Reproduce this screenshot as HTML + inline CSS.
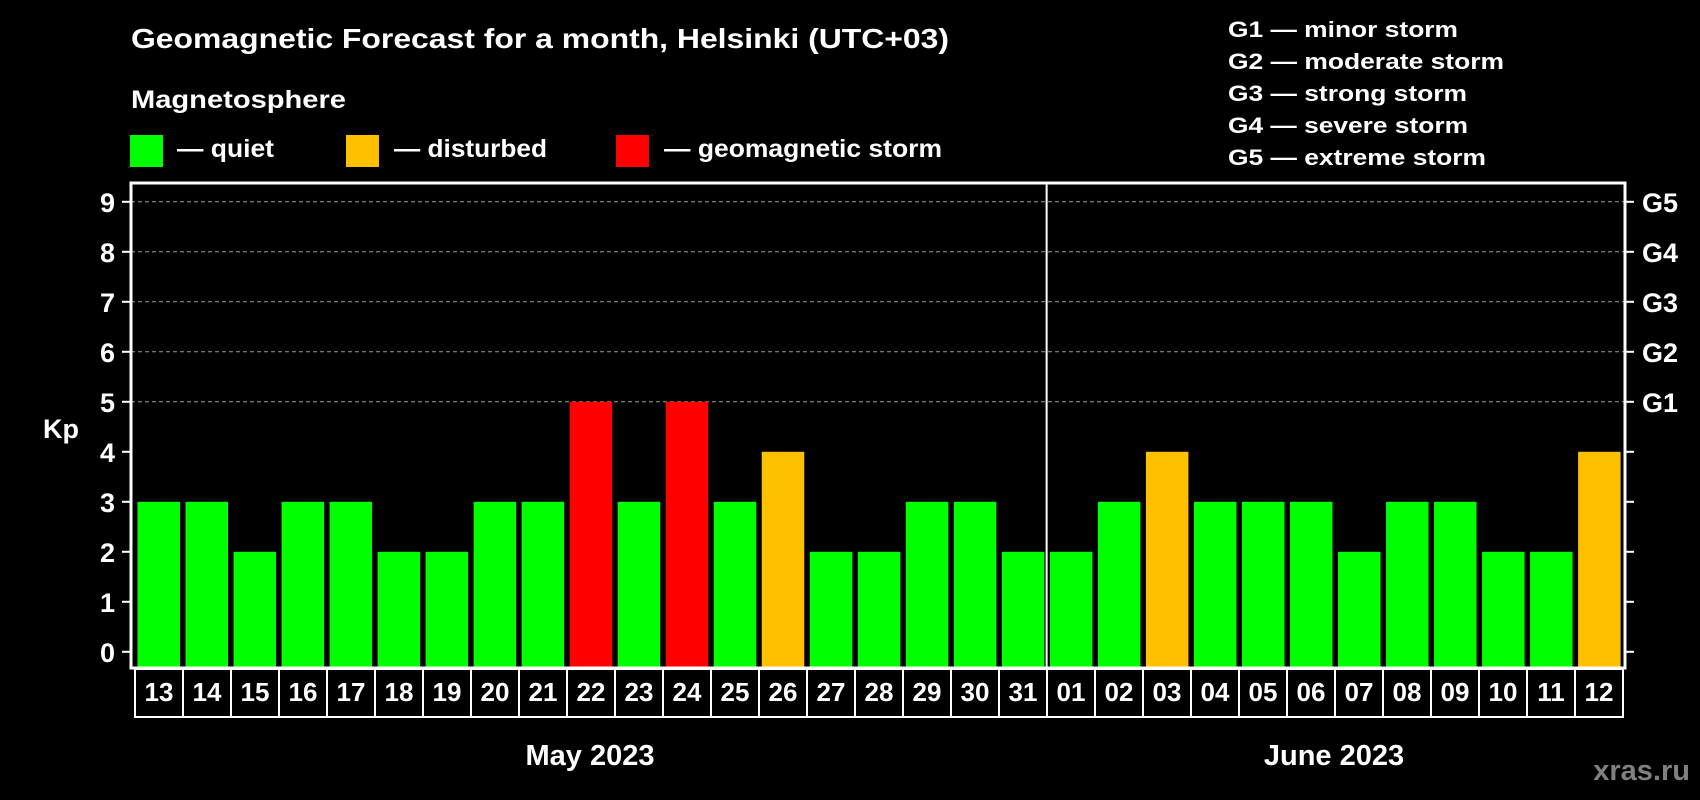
<!DOCTYPE html>
<html><head><meta charset="utf-8"><style>
html,body{margin:0;padding:0;background:#000;}
svg{display:block;font-family:"Liberation Sans",Arial,sans-serif;font-weight:bold;}
</style></head><body>
<svg id="chart" width="1700" height="800" viewBox="0 0 1700 800">
<rect x="0" y="0" width="1700" height="800" fill="#000"/>
<text x="131" y="48" font-size="28" fill="#fff" textLength="818" lengthAdjust="spacingAndGlyphs">Geomagnetic Forecast for a month, Helsinki (UTC+03)</text>
<text x="131" y="108" font-size="25" fill="#fff" textLength="215" lengthAdjust="spacingAndGlyphs">Magnetosphere</text>
<g>
<rect x="130" y="135" width="33" height="32" fill="#00ff00"/>
<text x="177" y="157" font-size="25" fill="#fff" textLength="97" lengthAdjust="spacingAndGlyphs">— quiet</text>
</g>
<g>
<rect x="346" y="135" width="33" height="32" fill="#ffc000"/>
<text x="394" y="157" font-size="25" fill="#fff" textLength="153" lengthAdjust="spacingAndGlyphs">— disturbed</text>
</g>
<g>
<rect x="616" y="135" width="33" height="32" fill="#ff0000"/>
<text x="664" y="157" font-size="25" fill="#fff" textLength="278" lengthAdjust="spacingAndGlyphs">— geomagnetic storm</text>
</g>
<g font-size="22" fill="#fff">
<text x="1228" y="37" textLength="230" lengthAdjust="spacingAndGlyphs">G1 — minor storm</text>
<text x="1228" y="69" textLength="276" lengthAdjust="spacingAndGlyphs">G2 — moderate storm</text>
<text x="1228" y="101" textLength="239" lengthAdjust="spacingAndGlyphs">G3 — strong storm</text>
<text x="1228" y="133" textLength="240" lengthAdjust="spacingAndGlyphs">G4 — severe storm</text>
<text x="1228" y="165" textLength="258" lengthAdjust="spacingAndGlyphs">G5 — extreme storm</text>
</g>
<text x="43" y="438" font-size="27" fill="#fff">Kp</text>
<g id="grid"></g>
<g id="bars"></g>
<g id="axes"></g>
<text x="590" y="765" font-size="29" fill="#fff" text-anchor="middle">May 2023</text>
<text x="1334" y="765" font-size="29" fill="#fff" text-anchor="middle">June 2023</text>
<text x="1690" y="780" font-size="29" fill="#808080" text-anchor="end">xras.ru</text>
</svg>
<script>
const days = ["13","14","15","16","17","18","19","20","21","22","23","24","25","26","27","28","29","30","31","01","02","03","04","05","06","07","08","09","10","11","12"];
const kpValues = [3,3,2,3,3,2,2,3,3,5,3,5,3,4,2,2,3,3,2,2,3,4,3,3,3,2,3,3,2,2,4];
const yTicks = [0,1,2,3,4,5,6,7,8,9];
const gLabels = ["G1","G2","G3","G4","G5"];
const gLevels = [5,6,7,8,9];
const monthSplitIndex = 19;

const NS = "http://www.w3.org/2000/svg";
const plotL = 131, plotR = 1625, plotT = 183, plotB = 668;
const y0 = 651.8, unit = 50;
const barX0 = 137.5, pitch = 48.02, barW = 42.5;
function yScale(v){ return y0 - v * unit; }
function xScale(i){ return barX0 + i * pitch; }
function mk(tag, attrs, parent){ const e = document.createElementNS(NS, tag); for (const k in attrs) e.setAttribute(k, attrs[k]); parent.appendChild(e); return e; }
function color(v){ return v >= 5 ? "#ff0000" : (v >= 4 ? "#ffc000" : "#00ff00"); }

const grid = document.getElementById("grid");
gLevels.forEach(function(v){
  const l = mk("line", {x1: plotL, x2: plotR, y1: yScale(v), y2: yScale(v), stroke: "#9a9a9a", "stroke-width": 1, "stroke-dasharray": "4,3"}, grid);
  
  
});

const bars = document.getElementById("bars");
kpValues.forEach(function(v, i){
  const r = mk("rect", {x: xScale(i), y: yScale(v), width: barW, height: plotB - yScale(v), fill: color(v)}, bars);
  
  
});

const axes = document.getElementById("axes");
const frame = mk("rect", {x: plotL, y: plotT, width: plotR - plotL, height: plotB - plotT, fill: "none", stroke: "#fff", "stroke-width": 3}, axes);


const splitX = xScale(monthSplitIndex) - (pitch - barW) / 2 - 0.5;
const div = mk("line", {x1: splitX, x2: splitX, y1: plotT, y2: plotB, stroke: "#fff", "stroke-width": 2}, axes);



yTicks.forEach(function(v){
  const y = yScale(v);
  const t = mk("line", {x1: 122, x2: plotL, y1: y, y2: y, stroke: "#fff", "stroke-width": 2}, axes);
  
  
  const t2 = mk("line", {x1: plotR, x2: 1634, y1: y, y2: y, stroke: "#fff", "stroke-width": 2}, axes);
  
  
  const lab = mk("text", {x: 115, y: y + 10, "font-size": 27, fill: "#fff", "text-anchor": "end"}, axes);
  lab.textContent = v;
  
  
});
gLevels.forEach(function(v, i){
  const lab = mk("text", {x: 1642, y: yScale(v) + 10, "font-size": 27, fill: "#fff"}, axes);
  lab.textContent = gLabels[i];
  
  
});

const cellL = 135, cellW = (1623 - 135) / days.length, cellT = 669, cellB = 717;
const cells = mk("g", {}, axes);


days.forEach(function(d, i){
  const c = mk("rect", {x: cellL + i * cellW, y: cellT, width: cellW, height: cellB - cellT, fill: "none", stroke: "#fff", "stroke-width": 2}, cells);
  
  
  const t = mk("text", {x: cellL + (i + 0.5) * cellW, y: 701, "font-size": 26, fill: "#fff", "text-anchor": "middle"}, cells);
  t.textContent = d;
  
  
});
</script>
</body></html>
